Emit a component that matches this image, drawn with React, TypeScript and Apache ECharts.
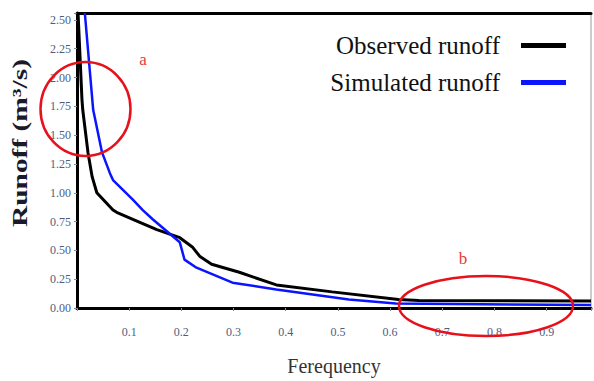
import React, { useEffect, useRef } from "react";
import * as echarts from "echarts";

const observedX = [0.002, 0.0095, 0.011, 0.021, 0.029, 0.038, 0.069, 0.076, 0.107, 0.153, 0.197, 0.221, 0.235, 0.258, 0.311, 0.382, 0.489, 0.616, 0.655, 0.985];
const observedY = [2.56, 1.81, 1.72, 1.35, 1.14, 1.0, 0.85, 0.83, 0.77, 0.68, 0.61, 0.53, 0.45, 0.38, 0.31, 0.2, 0.14, 0.074, 0.065, 0.06];
const simulatedX = [0.015, 0.031, 0.048, 0.063, 0.069, 0.107, 0.126, 0.145, 0.197, 0.206, 0.229, 0.298, 0.382, 0.521, 0.611, 0.985];
const simulatedY = [2.56, 1.72, 1.35, 1.17, 1.11, 0.94, 0.85, 0.77, 0.57, 0.42, 0.35, 0.22, 0.16, 0.074, 0.04, 0.025];
const seriesNames = ["Observed runoff", "Simulated runoff"];
const xTitle = "Ferequency";
const yTitle = "Runoff (m³/s)";

const serif = "Liberation Serif";

export default function App() {
  const ref = useRef<HTMLDivElement>(null);
  useEffect(() => {
    document.body.style.margin = "0";
    const chart = echarts.init(ref.current!, null, { renderer: "svg", width: 594, height: 381 });
    const zip = (xs: number[], ys: number[]) => xs.map((x, i) => [x, ys[i]]);
    chart.setOption({
      animation: false,
      backgroundColor: "#ffffff",
      grid: { left: 77, right: 1, top: 13, bottom: 71, show: true, borderColor: "#999", borderWidth: 1 },
      legend: {
        right: 23,
        top: 28,
        orient: "vertical",
        align: "right",
        itemWidth: 45,
        itemHeight: 5,
        itemGap: 12,
        icon: "rect",
        textStyle: { fontFamily: serif, fontSize: 25, color: "#111", padding: [0, 16, 0, 0] },
        data: seriesNames,
      },
      xAxis: [
        {
          type: "value",
          min: 0,
          max: 0.985,
          interval: 0.1,
          splitLine: { show: false },
          axisLine: { lineStyle: { color: "#000", width: 3 } },
          axisTick: { length: 3, lineStyle: { color: "#888" } },
          axisLabel: {
            margin: 18,
            fontFamily: serif,
            fontSize: 12,
            color: "#4f5d7d",
            formatter: (v: number) => (v > 0.05 && v < 0.95 ? v.toFixed(1) : ""),
          },
          name: xTitle,
          nameLocation: "middle",
          nameGap: 48,
          nameTextStyle: { fontFamily: serif, fontSize: 20, color: "#333" },
        },
        {
          type: "value",
          position: "top",
          min: 0,
          max: 0.985,
          axisLine: { show: true, lineStyle: { color: "#000", width: 3 } },
          axisTick: { show: false },
          axisLabel: { show: false },
          splitLine: { show: false },
        },
      ],
      yAxis: {
        type: "value",
        min: 0,
        max: 2.56,
        interval: 0.25,
        splitLine: { show: false },
        axisLine: { show: true, lineStyle: { color: "#000", width: 3 } },
        axisTick: { show: true, length: 3, lineStyle: { color: "#888" } },
        axisLabel: {
          margin: 6,
          fontFamily: serif,
          fontSize: 12,
          color: "#4f5d7d",
          formatter: (v: number) => (v <= 2.5001 ? v.toFixed(2) : ""),
        },
      },
      series: [
        {
          name: seriesNames[0],
          type: "line",
          data: zip(observedX, observedY),
          showSymbol: false,
          symbol: "none",
          lineStyle: { color: "#000", width: 3 },
          itemStyle: { color: "#000" },
          z: 3,
        },
        {
          name: seriesNames[1],
          type: "line",
          data: zip(simulatedX, simulatedY),
          showSymbol: false,
          symbol: "none",
          lineStyle: { color: "#0a14ff", width: 2.5 },
          itemStyle: { color: "#0a14ff" },
          z: 4,
        },
      ],
      graphic: [
        {
          type: "text",
          x: 20,
          y: 143,
          rotation: Math.PI / 2,
          scaleX: 1.4,
          style: {
            text: yTitle,
            fill: "#1a1a2a",
            fontFamily: serif,
            fontSize: 21,
            fontWeight: "bold",
            align: "center",
            verticalAlign: "middle",
          },
          z: 100,
        },
        {
          type: "ellipse",
          shape: { cx: 85.5, cy: 109, rx: 45, ry: 47 },
          style: { fill: "none", stroke: "#e8101a", lineWidth: 2.5 },
          z: 100,
        },
        {
          type: "ellipse",
          shape: { cx: 486, cy: 306, rx: 87, ry: 30 },
          style: { fill: "none", stroke: "#e8101a", lineWidth: 2.5 },
          z: 100,
        },
        {
          type: "text",
          x: 143,
          y: 59,
          style: { text: "a", fill: "#e83a3a", fontFamily: serif, fontSize: 17, align: "center", verticalAlign: "middle" },
          z: 100,
        },
        {
          type: "text",
          x: 463,
          y: 258,
          style: { text: "b", fill: "#e83a3a", fontFamily: serif, fontSize: 17, align: "center", verticalAlign: "middle" },
          z: 100,
        },
      ],
    });
    return () => chart.dispose();
  }, []);
  return <div ref={ref} style={{ width: 594, height: 381 }} />;
}
